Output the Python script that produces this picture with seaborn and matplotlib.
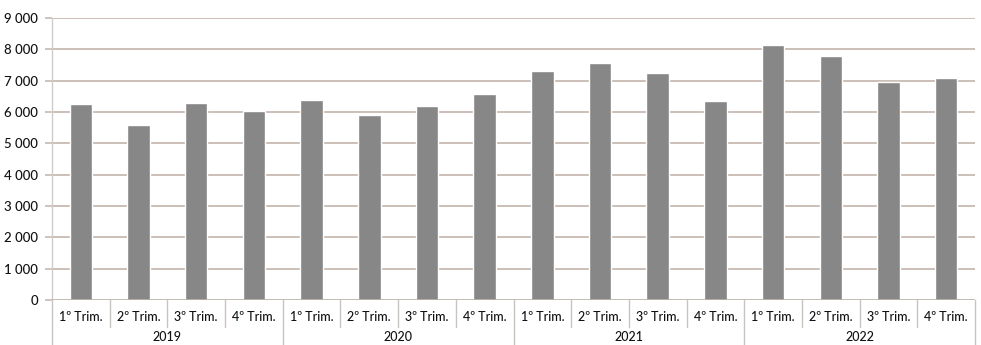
import matplotlib
matplotlib.use("Agg")
import matplotlib.pyplot as plt
import seaborn as sns
import pandas as pd

years = ["2019", "2020", "2021", "2022"]
quarters = ["1º Trim.", "2º Trim.", "3º Trim.", "4º Trim."]
values = [6240, 5570, 6290, 6030,
          6380, 5900, 6180, 6590,
          7300, 7570, 7250, 6340,
          8140, 7780, 6960, 7100]
y_ticks = [0, 1000, 2000, 3000, 4000, 5000, 6000, 7000, 8000, 9000]

labels = [f"{y}|{q}" for y in years for q in quarters]
df = pd.DataFrame({"periodo": labels, "valor": values})

sns.set_theme(style="white")
plt.rcParams["font.family"] = ["Lato", "DejaVu Sans"]

fig = plt.figure(figsize=(9.81, 3.45), dpi=100)
ax = fig.add_axes([52 / 981, 1 - 300 / 345, (975 - 52) / 981, (300 - 18) / 345])

grid_color = "#cbbfb8"
sep_color = "#c9c4c0"
text_color = "#111111"

sns.barplot(data=df, x="periodo", y="valor", color="#878787", width=0.39,
            saturation=1, ax=ax, zorder=3)

ax.set_ylim(0, 9000)
ax.set_xlim(-0.5, len(labels) - 0.5)
ax.set_yticks(y_ticks)
ax.set_yticklabels([f"{v:,}".replace(",", " ") for v in y_ticks], fontsize=9.5,
                   color=text_color, fontweight="medium")
ax.tick_params(axis="y", length=5, width=1.3, color=grid_color, pad=5, left=True)
ax.set_xticks([])
ax.set_xlabel("")
ax.set_ylabel("")

for v in y_ticks[1:]:
    ax.axhline(v, color=grid_color, lw=1.4, zorder=1)
ax.axhline(0, color="#b8b0aa", lw=1.2, zorder=4)

for s in ["top", "right", "bottom"]:
    ax.spines[s].set_visible(False)
ax.spines["left"].set_color("#d0ccc8")
ax.spines["left"].set_linewidth(1.0)

xt = ax.get_xaxis_transform()
n = len(labels)
for i in range(n + 1):
    x = i - 0.5
    depth = -0.2 if i % 4 == 0 else -0.095
    ax.plot([x, x], [0, depth], color=sep_color, lw=1.0, transform=xt,
            clip_on=False)

for i, lab in enumerate(labels):
    q = lab.split("|")[1]
    ax.text(i, -0.062, q, transform=xt, ha="center", va="center",
            fontsize=9, color=text_color, fontweight="medium")

for j, y in enumerate(years):
    ax.text(j * 4 + 1.5, -0.132, y, transform=xt, ha="center", va="center",
            fontsize=9, color=text_color, fontweight="medium")

fig.savefig("out.png", dpi=100, facecolor="white")
